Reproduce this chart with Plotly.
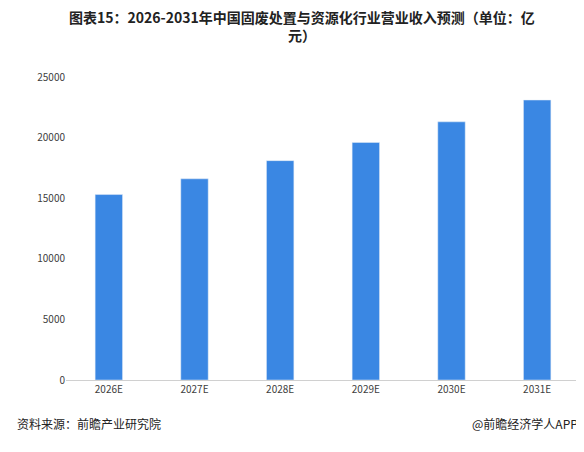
import plotly.graph_objects as go

years = ["2026E", "2027E", "2028E", "2029E", "2030E", "2031E"]
revenue = [15300, 16600, 18100, 19600, 21300, 23100]

fig = go.Figure(go.Bar(x=years, y=revenue, marker_color="#3a87e3", width=0.32))

fig.update_layout(
    width=584, height=452,
    paper_bgcolor="white", plot_bgcolor="white",
    font=dict(family="Noto Sans CJK SC", size=11, color="#404040"),
    margin=dict(l=58, r=12, t=69, b=80),
    showlegend=False,
    xaxis=dict(showline=True, linecolor="#d0d0d0", ticks="", tickfont=dict(size=10)),
    yaxis=dict(range=[0, 25000], dtick=5000, showgrid=False, zeroline=False,
               tickformat="d", tickfont=dict(size=10)),
)
# title as annotation so the two lines stay inside the page
fig.add_annotation(text="<b>图表15：2026-2031年中国固废处置与资源化行业营业收入预测（单位：亿<br>元）</b>",
                   xref="paper", yref="paper", x=0.46, y=1.0, yshift=30,
                   xanchor="center", yanchor="bottom", showarrow=False,
                   font=dict(size=14, color="#222"))
fig.add_annotation(text="资料来源：前瞻产业研究院", xref="paper", yref="paper", x=-0.1, y=-0.11,
                   xanchor="left", yanchor="top", showarrow=False, font=dict(size=12, color="#222"))
fig.add_annotation(text="@前瞻经济学人APP", xref="paper", yref="paper", x=1.0, y=-0.11,
                   xanchor="right", yanchor="top", showarrow=False, font=dict(size=12, color="#222"))
fig.write_html("out.html")
